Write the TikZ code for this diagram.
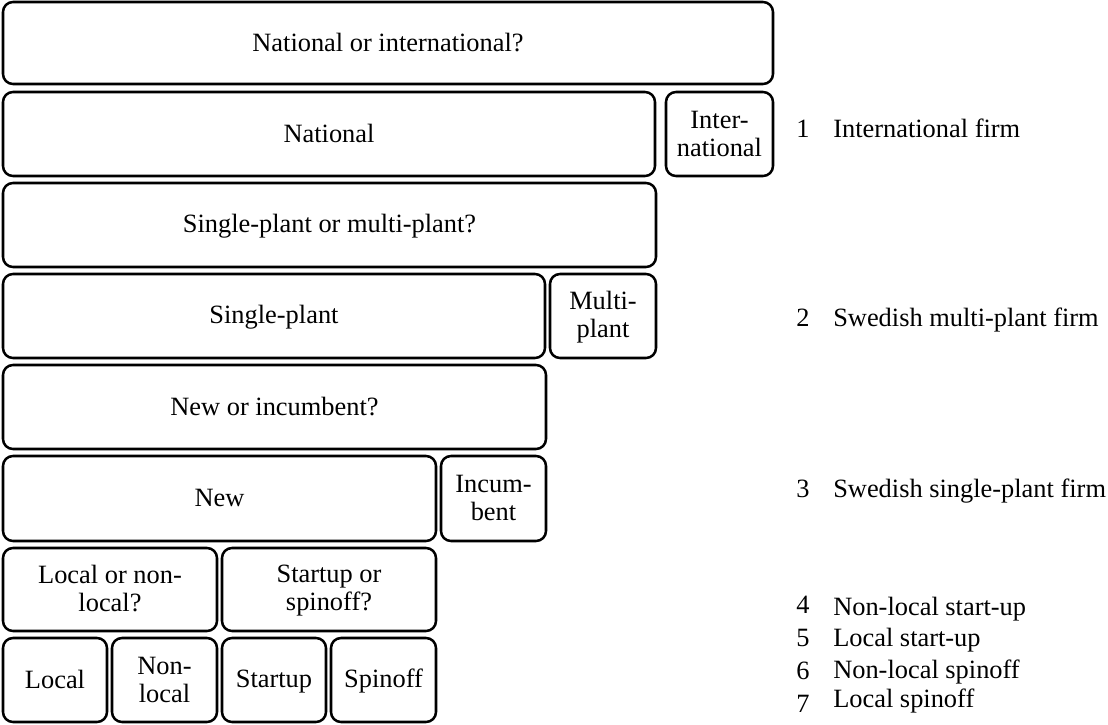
\documentclass[tikz,border=0pt]{standalone}
\usepackage{fontspec}
\setmainfont{Liberation Serif}
\tikzset{
  x=0.75pt, y=-0.75pt,
  cell/.style={draw=black, line width=1.9pt, rounded corners=7.5pt, inner sep=0pt,
    align=center, font=\fontsize{19.8pt}{21pt}\selectfont},
  lbl/.style={anchor=base west, inner sep=0pt, font=\fontsize{19.8pt}{21pt}\selectfont}
}
\newcommand\sx{\rule[-3pt]{0pt}{18pt}}
\newcommand\cellbox[6]{%
  \node[cell, minimum width={(#4-#2)*0.75pt}, minimum height={(#5-#3)*0.75pt}]
    (#1) at ({(#2+#4)/2},{(#3+#5)/2}) {#6};}
\begin{document}
\begin{tikzpicture}
\useasboundingbox (0,0) rectangle (1108,725);
% row 1
\cellbox{q1}{3}{2}{773}{84}{\sx National or international?}
% row 2
\cellbox{nat}{3}{92}{655}{176}{\sx National}
\cellbox{intl}{666}{92}{773}{176}{\sx Inter-\\\sx national}
% row 3
\cellbox{q2}{3}{183}{656}{267}{\sx Single-plant or multi-plant?}
% row 4
\cellbox{sp}{3}{274}{545}{358}{\sx Single-plant}
\cellbox{mp}{550}{274}{656}{358}{\sx Multi-\\\sx plant}
% row 5
\cellbox{q3}{3}{365}{546}{449}{\sx New or incumbent?}
% row 6
\cellbox{new}{3}{456}{436}{541}{\sx New}
\cellbox{inc}{441}{456}{546}{541}{\sx Incum-\\\sx bent}
% row 7
\cellbox{q4a}{3}{548}{217}{631}{\sx Local or non-\\\sx local?}
\cellbox{q4b}{222}{548}{436}{631}{\sx Startup or\\\sx spinoff?}
% row 8
\cellbox{loc}{3}{638}{107}{722}{\sx Local}
\cellbox{nonloc}{112}{638}{217}{722}{\sx Non-\\\sx local}
\cellbox{st}{222}{638}{326}{722}{\sx Startup}
\cellbox{spin}{331}{638}{436}{722}{\sx Spinoff}
% labels
\node[lbl] (n1) at (796,137) {1};
\node[lbl] (t1) at (833,137) {International firm};
\node[lbl] (n2) at (796,326) {2};
\node[lbl] (t2) at (833,326) {Swedish multi-plant firm};
\node[lbl] (n3) at (796,497) {3};
\node[lbl] (t3) at (833,497) {Swedish single-plant firm};
\node[lbl] (n4) at (796,613) {4};
\node[lbl] (t4) at (833,615) {Non-local start-up};
\node[lbl] (n5) at (796,646) {5};
\node[lbl] (t5) at (833,646) {Local start-up};
\node[lbl] (n6) at (796,679) {6};
\node[lbl] (t6) at (833,678) {Non-local spinoff};
\node[lbl] (n7) at (796,712) {7};
\node[lbl] (t7) at (833,707) {Local spinoff};
\end{tikzpicture}
\end{document}
